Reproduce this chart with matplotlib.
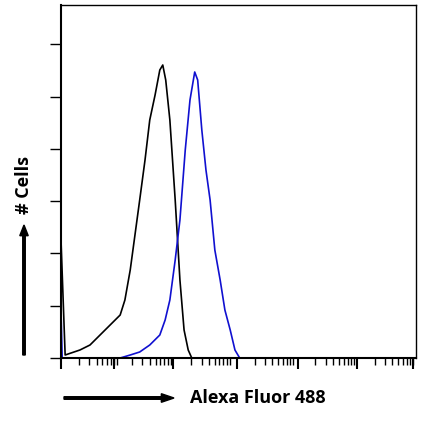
import numpy as np
import matplotlib
matplotlib.use('Agg')
import matplotlib.pyplot as plt

# histogram outlines (log10 intensity, counts)
black_x = [0.0, 0.0, 0.07, 0.32, 0.49, 0.66, 0.83, 1.00, 1.08, 1.17, 1.25, 1.33, 1.42, 1.50, 1.59,
           1.67, 1.72, 1.77, 1.84, 1.93, 2.01, 2.08, 2.15, 2.21]
black_y = [0, 118, 3, 8, 13, 23, 33, 43, 58, 88, 123, 158, 198, 238, 263, 288, 293, 278, 238,
           158, 78, 28, 8, 0]
blue_x = [0.0, 0.0, 0.02, 1.00, 1.17, 1.33, 1.50, 1.67, 1.76, 1.84, 1.93, 2.01, 2.10, 2.18, 2.26,
          2.31, 2.38, 2.45, 2.52, 2.60, 2.69, 2.77, 2.86, 2.94, 3.02]
blue_y = [0, 48, 0, 0, 3, 6, 13, 23, 38, 58, 98, 138, 208, 258, 286, 278, 228, 188, 158, 108,
          78, 48, 28, 8, 0]

fig = plt.figure(figsize=(4.22, 4.28), dpi=100)
ax = fig.add_axes([61/422, 70/428, 355/422, 353/428])
ax.plot(black_x, black_y, color='black', lw=1.2)
ax.plot(blue_x, blue_y, color='#1010d0', lw=1.2)
ax.set_xlim(0, 6)
ax.set_ylim(0, 353)

major = [0.0, 0.9, 1.9, 2.97, 4.0, 5.0, 5.95]
minor = []
for m in major[:-1]:
    for k in range(2, 10):
        minor.append(m + np.log10(k))
ax.set_xticks(major)
ax.set_xticks([v for v in minor if v < 6], minor=True)
ax.set_xticklabels([])
ax.set_yticks(np.arange(0, 353, 52.3))
ax.set_yticklabels([])
ax.tick_params(axis='x', which='major', direction='out', length=8, width=1.5)
ax.tick_params(axis='x', which='minor', direction='out', length=5, width=1)
ax.tick_params(axis='y', direction='out', length=8, width=1)
for s in ax.spines.values():
    s.set_linewidth(1)
ax.spines['left'].set_linewidth(1.5)
ax.spines['bottom'].set_linewidth(1.5)

fig.text(190/422, 1 - 398/428, 'Alexa Fluor 488', fontsize=13, fontweight='bold',
         family='Open Sans', va='center', ha='left')
fig.patches.append(matplotlib.patches.FancyArrow(64/422, 1 - 398/428, 110/422, 0, width=0.006,
                   head_width=0.02, head_length=0.03, color='black', transform=fig.transFigure,
                   length_includes_head=True))
fig.text(24/422, 1 - 185/428, '# Cells', fontsize=13, fontweight='bold', family='Open Sans',
         rotation=90, ha='center', va='center')
fig.patches.append(matplotlib.patches.FancyArrow(24/422, 1 - 355/428, 0, 130/428, width=0.006,
                   head_width=0.02, head_length=0.025, color='black', transform=fig.transFigure,
                   length_includes_head=True))
fig.savefig('out.png', dpi=100)
